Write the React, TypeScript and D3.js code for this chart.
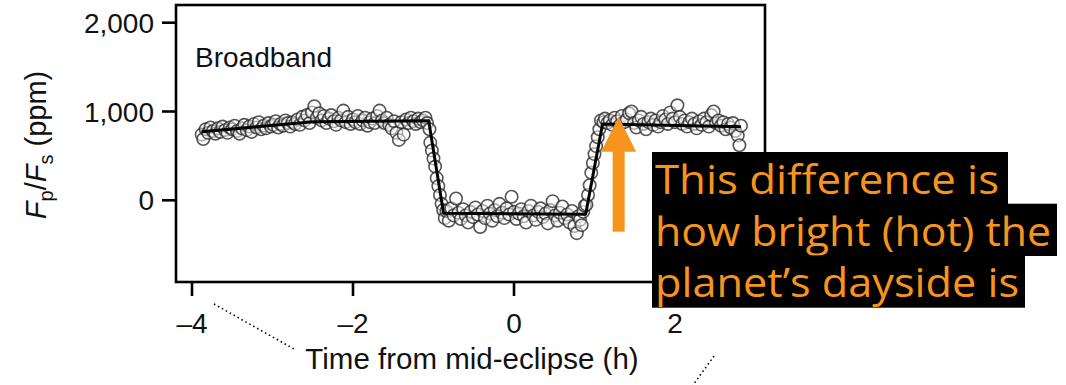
import React from 'react';
import * as d3 from 'd3';

// ---- Data (time from mid-eclipse in hours, Fp/Fs in ppm) ----
const preTime = [-3.88,-3.86,-3.83,-3.80,-3.77,-3.74,-3.71,-3.68,-3.65,-3.62,-3.59,-3.56,-3.53,-3.50,-3.47,-3.44,-3.41,-3.38,-3.35,-3.32,-3.29,-3.26,-3.23,-3.20,-3.17,-3.14,-3.11,-3.08,-3.05,-3.02,-2.99,-2.96,-2.93,-2.90,-2.87,-2.84,-2.81,-2.78,-2.75,-2.72,-2.69,-2.66,-2.63,-2.60,-2.57,-2.54,-2.51,-2.48,-2.45,-2.42,-2.39,-2.36,-2.33,-2.30,-2.27,-2.24,-2.21,-2.18,-2.15,-2.12,-2.09,-2.06,-2.03,-2.00,-1.97,-1.94,-1.91,-1.88,-1.85,-1.82,-1.79,-1.76,-1.73,-1.70,-1.67,-1.64,-1.61,-1.58,-1.55,-1.52,-1.49,-1.46,-1.43,-1.40,-1.37,-1.34,-1.31,-1.28,-1.25,-1.22,-1.19,-1.16,-1.13,-1.10,-1.08];
const preFlux = [740,690,800,760,820,780,750,810,770,830,790,760,820,800,840,780,750,810,850,790,830,770,860,820,880,800,840,810,870,830,850,890,820,860,840,900,870,830,880,860,910,850,940,900,960,870,990,1060,930,980,900,950,870,920,960,890,850,930,900,1010,880,940,860,910,880,950,860,900,930,840,880,920,870,950,1010,900,870,930,850,810,890,760,680,880,740,910,870,930,890,860,920,880,900,930,870];

const ingressTime = [-1.05,-1.04,-1.02,-1.00,-0.98,-0.96,-0.94,-0.92,-0.90,-0.88];
const ingressFlux = [800,650,560,470,380,250,160,60,-40,-110];

const bottomTime = [-0.86,-0.84,-0.81,-0.78,-0.75,-0.72,-0.69,-0.66,-0.63,-0.60,-0.57,-0.54,-0.51,-0.48,-0.45,-0.42,-0.39,-0.36,-0.33,-0.30,-0.27,-0.24,-0.21,-0.18,-0.15,-0.12,-0.09,-0.06,-0.03,0.00,0.03,0.06,0.09,0.12,0.15,0.18,0.21,0.24,0.27,0.30,0.33,0.36,0.39,0.42,0.45,0.48,0.51,0.54,0.57,0.60,0.63,0.66,0.69,0.72,0.75,0.78,0.80,0.82,0.84,0.86,0.88];
const bottomFlux = [-200,-120,-230,-90,-170,20,-140,-210,-100,-170,-250,-130,-190,-80,-160,-300,-120,-200,-60,-150,-230,-110,-180,-40,-140,-200,-90,-160,40,-130,-210,-150,-100,-180,-250,-120,-60,-170,-220,-130,-90,-190,-150,-260,-110,-10,-170,-230,-140,-70,-200,-160,-250,-120,-290,-370,-180,-220,-280,-130,-60];

const egressTime = [0.90,0.92,0.94,0.96,0.98,1.00,1.02,1.04,1.06,1.08];
const egressFlux = [-50,60,170,310,420,520,610,710,800,900];

const postTime = [1.11,1.13,1.16,1.19,1.22,1.25,1.28,1.31,1.34,1.37,1.40,1.43,1.46,1.49,1.52,1.55,1.58,1.61,1.64,1.67,1.70,1.73,1.76,1.79,1.82,1.85,1.88,1.91,1.94,1.97,2.00,2.03,2.06,2.09,2.12,2.15,2.18,2.21,2.24,2.27,2.30,2.33,2.36,2.39,2.42,2.45,2.48,2.51,2.54,2.57,2.60,2.63,2.66,2.69,2.72,2.75,2.78,2.80,2.82];
const postFlux = [880,920,870,900,850,930,890,840,950,880,910,980,1000,870,820,900,940,860,800,880,920,850,900,830,880,950,910,860,990,920,880,1070,940,860,900,830,880,920,860,810,890,850,920,880,830,960,1000,870,900,840,880,800,860,820,870,780,730,620,840];

const modelTime = [-3.88, -2.49, -1.06, -0.875, 0.89, 1.10, 2.82];
const modelFlux = [772, 885, 896, -146, -157, 859, 829];

const xTicks = [-4, -2, 0, 2];
const yTicks = [0, 1000, 2000];

const panelLabel = 'Broadband';
const xTitle = 'Time from mid-eclipse (h)';
const noteLines = ['This difference is', 'how bright (hot) the', 'planet\u2019s dayside is'];
const noteWidths = [356, 405, 373];
const noteTextWidths = [344, 396, 364];

// ---- Layout ----
const W = 1066, H = 385;
const frame = { left: 176, right: 765, top: 5, bottom: 282 };
const ORANGE = '#F7941D';
const FONT = '"Liberation Sans", Arial, Helvetica, sans-serif';

export default function App() {
  const x = d3.scaleLinear().domain([-4, 0]).range([192, 514]);
  const y = d3.scaleLinear().domain([0, 2000]).range([200.3, 22.7]);

  const obs = [
    ...d3.zip(preTime, preFlux),
    ...d3.zip(ingressTime, ingressFlux),
    ...d3.zip(bottomTime, bottomFlux),
    ...d3.zip(egressTime, egressFlux),
    ...d3.zip(postTime, postFlux),
  ];
  const model = d3.zip(modelTime, modelFlux);
  const line = d3.line<number[]>().x(d => x(d[0])).y(d => y(d[1]));
  const fmt = d3.format(',');
  const xfmt = (v: number) => (v < 0 ? '\u2013' + Math.abs(v) : String(v));

  const arrowX = x(1.30);
  const arrowTip = 116.7, arrowBase = 151.7, arrowBottom = 231.7;
  const noteTop = 152, noteLineH = 51.7;
  const noteLeft = 652;

  return (
    <svg width={W} height={H} style={{ position: 'absolute', left: 0, top: 0, display: 'block', background: '#fff' }}>
      {/* dotted connectors */}
      <line x1={214} y1={304} x2={294} y2={349} stroke="#000" strokeWidth={1.6} strokeDasharray="1.5 3" />
      <line x1={714} y1={356} x2={688} y2={392} stroke="#000" strokeWidth={1.6} strokeDasharray="1.5 3" />

      {/* frame */}
      <rect x={frame.left} y={frame.top} width={frame.right - frame.left} height={frame.bottom - frame.top}
        fill="none" stroke="#000" strokeWidth={2.6} />

      {/* y ticks */}
      {yTicks.map(t => (
        <g key={'y' + t}>
          <line x1={frame.left - 14} x2={frame.left} y1={y(t)} y2={y(t)} stroke="#000" strokeWidth={2.6} />
          <text x={154} y={y(t)} dy="0.36em" textAnchor="end" fontFamily={FONT} fontSize={28} fill="#111">{fmt(t)}</text>
        </g>
      ))}
      {/* x ticks */}
      {xTicks.map(t => (
        <g key={'x' + t}>
          <line x1={x(t)} x2={x(t)} y1={frame.bottom} y2={frame.bottom + 14} stroke="#000" strokeWidth={2.6} />
          <text x={x(t)} y={333} textAnchor="middle" fontFamily={FONT} fontSize={28} fill="#111">{xfmt(t)}</text>
        </g>
      ))}

      {/* axis titles */}
      <text x={472} y={369} textAnchor="middle" fontFamily={FONT} fontSize={29.5} fill="#111">
        {xTitle}
      </text>
      <text transform="translate(46,145) rotate(-90)" textAnchor="middle" fontFamily={FONT} fontSize={29} fill="#111">
        <tspan fontStyle="italic">F</tspan>
        <tspan fontSize={20} dy={7}>p</tspan>
        <tspan dy={-7}>/</tspan>
        <tspan fontStyle="italic">F</tspan>
        <tspan fontSize={20} dy={7}>s</tspan>
        <tspan dy={-7}> (ppm)</tspan>
      </text>

      <text x={195} y={66.5} fontFamily={FONT} fontSize={28} fill="#111">{panelLabel}</text>

      {/* observations */}
      <g>
        {obs.map((d, i) => (
          <circle key={i} cx={x(d[0])} cy={y(d[1])} r={6.2}
            fill="rgba(255,255,255,0.5)" stroke="#2a2a2a" strokeOpacity={0.8} strokeWidth={1.6} />
        ))}
      </g>
      {/* model */}
      <path d={line(model) || ''} fill="none" stroke="#000" strokeWidth={3} strokeLinejoin="round" />

      {/* arrow */}
      <rect x={arrowX - 6} y={arrowBase - 1} width={12} height={arrowBottom - arrowBase + 1} fill={ORANGE} />
      <path d={`M${arrowX},${arrowTip} L${arrowX + 17.5},${arrowBase} L${arrowX - 17.5},${arrowBase} Z`} fill={ORANGE} />

      {/* note */}
      {noteLines.map((s, i) => (
        <g key={'n' + i}>
          <rect x={noteLeft} y={noteTop + i * noteLineH} width={noteWidths[i]} height={noteLineH + 0.6} fill="#000" />
          <text x={noteLeft + 3} y={noteTop + i * noteLineH + 42} fontFamily={'"Open Sans", "Noto Sans", sans-serif'}
            fontSize={40} fill={ORANGE} textLength={noteTextWidths[i]} lengthAdjust="spacingAndGlyphs">{s}</text>
        </g>
      ))}
    </svg>
  );
}
